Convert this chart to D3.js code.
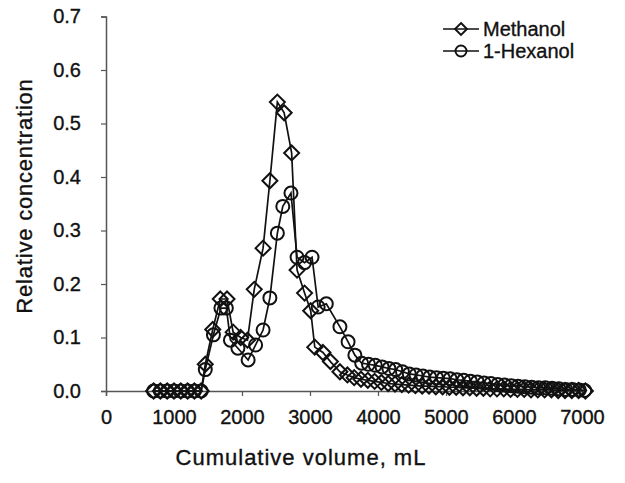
<!DOCTYPE html>
<html>
<head>
<meta charset="utf-8">
<script src="https://cdn.jsdelivr.net/npm/d3@7"></script>
<style>
  body { margin: 0; background: #fff; }
  text { font-family: Arial, "Liberation Sans", sans-serif; fill: #111; stroke: #111; stroke-width: 0.35px; }
</style>
</head>
<body>
<script>
// Methanol (diamonds)
const methVol = [700, 800, 900, 1000, 1100, 1200, 1300, 1400, 1460, 1570, 1680, 1780, 1870, 1980, 2080,
  2180, 2310, 2410, 2520, 2620, 2730, 2810, 2920, 3010, 3070, 3190, 3300, 3440, 3550, 3650, 3750,
  3850, 3950, 4050, 4150, 4250, 4350, 4450, 4550, 4650, 4750, 4850, 4950, 5050, 5150, 5250, 5350,
  5450, 5550, 5650, 5750, 5850, 5950, 6050, 6150, 6250, 6350, 6450, 6550, 6650, 6750, 6850, 6950, 7050];
const methConc = [0, 0, 0, 0, 0, 0, 0, 0, 0.05, 0.115, 0.172, 0.172, 0.11, 0.1, 0.095,
  0.19, 0.267, 0.393, 0.54, 0.52, 0.445, 0.226, 0.183, 0.15, 0.082, 0.072, 0.055, 0.036, 0.03, 0.025, 0.022,
  0.02, 0.018, 0.016, 0.014, 0.013, 0.012, 0.011, 0.01, 0.009, 0.009, 0.008, 0.008, 0.007, 0.007, 0.006, 0.006,
  0.005, 0.005, 0.004, 0.004, 0.004, 0.003, 0.003, 0.003, 0.002, 0.002, 0.002, 0.002, 0.001, 0.001, 0.001, 0.001, 0];

// 1-Hexanol (circles)
const hexVol = [700, 800, 900, 1000, 1100, 1200, 1300, 1400, 1460, 1580, 1690, 1770, 1830, 1940, 2090,
  2200, 2310, 2410, 2520, 2600, 2720, 2810, 2920, 3030, 3120, 3240, 3440, 3560, 3660, 3760,
  3860, 3960, 4060, 4160, 4260, 4360, 4460, 4560, 4660, 4760, 4860, 4960, 5060, 5160, 5260, 5360,
  5460, 5560, 5660, 5760, 5860, 5960, 6060, 6160, 6260, 6360, 6460, 6560, 6660, 6760, 6860, 6960, 7040];
const hexConc = [0, 0, 0, 0, 0, 0, 0, 0, 0.04, 0.105, 0.155, 0.155, 0.095, 0.08, 0.058,
  0.086, 0.114, 0.174, 0.295, 0.345, 0.37, 0.25, 0.24, 0.25, 0.157, 0.163, 0.12, 0.092, 0.067, 0.052,
  0.05, 0.048, 0.045, 0.042, 0.04, 0.036, 0.032, 0.03, 0.028, 0.026, 0.025, 0.024, 0.023, 0.021, 0.02, 0.018,
  0.017, 0.015, 0.014, 0.012, 0.011, 0.01, 0.009, 0.008, 0.007, 0.006, 0.006, 0.005, 0.004, 0.003, 0.003, 0.002, 0.001];

const xTicks = [0, 1000, 2000, 3000, 4000, 5000, 6000, 7000];
const yTicks = [0, 0.1, 0.2, 0.3, 0.4, 0.5, 0.6, 0.7];

const width = 625, height = 483;

const x = d3.scaleLinear().domain([0, 7000]).range([106, 582]);
const y = d3.scaleLinear().domain([0, 0.7]).range([391, 16.5]);

const svg = d3.select('body').append('svg')
    .attr('width', width)
    .attr('height', height);

// axes
const xAxis = svg.append('g')
    .attr('transform', `translate(0,${y(0)})`)
    .call(d3.axisBottom(x).tickValues(xTicks).tickSize(5).tickPadding(14).tickFormat(d3.format('d')));
const yAxis = svg.append('g')
    .attr('transform', `translate(${x(0)},0)`)
    .call(d3.axisLeft(y).tickValues(yTicks).tickSize(5).tickPadding(20).tickFormat(d3.format('.1f')));

[xAxis, yAxis].forEach(a => {
  a.select('.domain').attr('stroke', '#555').attr('stroke-width', 1.5);
  a.selectAll('.tick line').attr('stroke', '#555').attr('stroke-width', 1.2);
  a.selectAll('.tick text').style('font-size', '20px').attr('fill', '#111');
});

svg.append('text')
    .attr('x', 301).attr('y', 465)
    .attr('text-anchor', 'middle')
    .style('font-size', '22px')
    .style('letter-spacing', '1px')
    .text('Cumulative volume, mL');

svg.append('text')
    .attr('transform', 'translate(32,196) rotate(-90)')
    .attr('text-anchor', 'middle')
    .style('font-size', '22px')
    .style('letter-spacing', '0.8px')
    .text('Relative concentration');

const diamond = s => `M0,${-s}L${s},0L0,${s}L${-s},0Z`;

const series = [
  { name: 'Methanol', vol: methVol, conc: methConc, shape: 'diamond' },
  { name: '1-Hexanol', vol: hexVol, conc: hexConc, shape: 'circle' }
];

const line = d3.line().x(d => x(d[0])).y(d => y(d[1]));

series.forEach(s => {
  const pts = s.vol.map((v, i) => [v, s.conc[i]]);
  const g = svg.append('g');

  g.append('path')
      .attr('d', line(pts))
      .attr('fill', 'none')
      .attr('stroke', '#111')
      .attr('stroke-width', 1.7);

  const m = g.selectAll('.mark').data(pts).enter();
  if (s.shape === 'diamond') {
    m.append('path')
        .attr('d', diamond(7.5))
        .attr('transform', d => `translate(${x(d[0])},${y(d[1])})`)
        .attr('fill', 'none').attr('stroke', '#111').attr('stroke-width', 2);
  } else {
    m.append('circle')
        .attr('cx', d => x(d[0])).attr('cy', d => y(d[1])).attr('r', 6.5)
        .attr('fill', 'none').attr('stroke', '#111').attr('stroke-width', 2);
  }
});

// legend
const legend = svg.append('g');
series.forEach((s, i) => {
  const ly = 29 + i * 22;
  legend.append('line')
      .attr('x1', 443).attr('x2', 479).attr('y1', ly).attr('y2', ly)
      .attr('stroke', '#111').attr('stroke-width', 1.6);
  if (s.shape === 'diamond') {
    legend.append('path')
        .attr('d', diamond(6))
        .attr('transform', `translate(461,${ly})`)
        .attr('fill', 'none').attr('stroke', '#111').attr('stroke-width', 1.9);
  } else {
    legend.append('circle')
        .attr('cx', 461).attr('cy', ly).attr('r', 5.5)
        .attr('fill', 'none').attr('stroke', '#111').attr('stroke-width', 1.9);
  }
  legend.append('text')
      .attr('x', 483).attr('y', ly)
      .attr('dy', '0.35em')
      .style('font-size', '20px')
      .text(s.name);
});
</script>
</body>
</html>
